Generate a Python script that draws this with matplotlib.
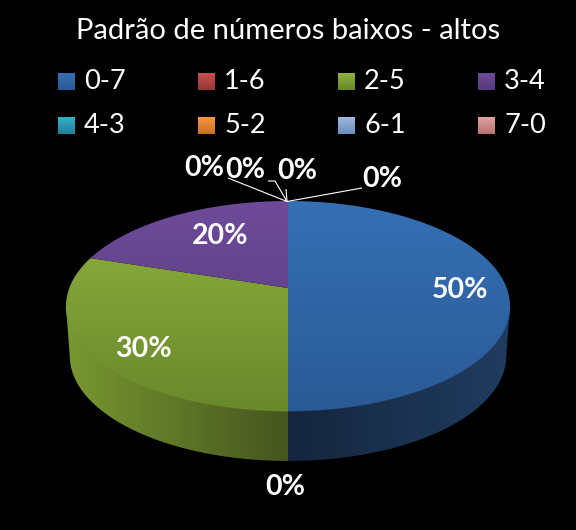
"""3D look pie of low/high number patterns, on black."""
import numpy as np
import matplotlib.pyplot as plt
from matplotlib.colors import LinearSegmentedColormap
from matplotlib.patches import Polygon

plt.rcParams["font.family"] = ["Lato", "DejaVu Sans"]

TITLE = "Padrão de números baixos - altos"
categories = ["0-7", "1-6", "2-5", "3-4", "4-3", "5-2", "6-1", "7-0"]
values = [50, 0, 30, 20, 0, 0, 0, 0]

# light / dark ends of each series gradient
LIGHT = ["#3570B4", "#C9504C", "#8FB240", "#6E4B99", "#35B0CC", "#F79646", "#9DB9DE", "#E2A3A0"]
DARK = ["#2A5A96", "#953735", "#68882B", "#553979", "#1F8098", "#C8701E", "#6C8EBE", "#B87370"]
SIDE_LIGHT = ["#203C60", "#953735", "#789830", "#573A7E", "#1F8098", "#C8701E", "#6C8EBE", "#B87370"]
SIDE_DARK = ["#15263E", "#5A2020", "#45551F", "#35234C", "#124C5A", "#784310", "#405672", "#6E4543"]

# pie geometry in image pixels: centre seen in perspective
CX, CY, A, B, K, DEPTH = 288, 288, 218.7, 101.9, 0.1714, 50


def project(t):
    u, v = np.sin(t), np.cos(t)
    return CX + A * u / (1 + K * v), CY - B * v / (1 + K * v)


def fill(ax, pts, c0, c1, extent, horizontal=False):
    patch = Polygon(pts, closed=True, fc="none", ec="none", transform=ax.transData)
    ax.add_patch(patch)
    cmap = LinearSegmentedColormap.from_list("g", [c0, c1])
    grad = np.linspace(0, 1, 256)
    grad = grad[None, :] if horizontal else grad[:, None]
    im = ax.imshow(grad, cmap=cmap, extent=extent, aspect="auto", origin="upper",
                   interpolation="bilinear")
    im.set_clip_path(patch)


fig = plt.figure(figsize=(5.76, 5.30), dpi=100, facecolor="black")
ax = fig.add_axes([0, 0, 1, 1])
ax.set_facecolor("black")
ax.axis("off")

ax.text(288, 31, TITLE, color="white", fontsize=21, ha="center", va="center")

# legend
for i, (cat, lt, dk) in enumerate(zip(categories, LIGHT, DARK)):
    col, row = i % 4, i // 4
    x, y = 58 + 140 * col, 73 + 44 * row
    cmap = LinearSegmentedColormap.from_list("s", [lt, dk])
    ax.imshow(np.linspace(0, 1, 32)[:, None], cmap=cmap, aspect="auto",
              extent=(x, x + 16.5, y + 17, y), origin="upper")
    ax.text(x + 26, y + 8.5, cat, color="white", fontsize=19.5, ha="left", va="center")

# slices, clockwise from twelve o'clock
edges = np.cumsum([0] + values) / sum(values) * 2 * np.pi
t_side = np.arccos(-K)  # where the outline is widest
for i, v in enumerate(values):
    if v == 0:
        continue
    t = np.linspace(edges[i], edges[i + 1], 200)
    # side wall, only the front part of the rim
    ts = t[(t >= t_side) & (t <= 2 * np.pi - t_side)]
    if len(ts):
        x, y = project(ts)
        bx = CX + (x - CX) * 0.983
        pts = np.r_[np.c_[x, y], np.c_[bx, y + DEPTH][::-1]]
        if x.mean() > CX:
            c0, c1, ext = SIDE_DARK[i], SIDE_LIGHT[i], (CX, 510, 470, 300)
        else:
            c0, c1, ext = SIDE_LIGHT[i], SIDE_DARK[i], (66, CX, 470, 300)
        fill(ax, pts, c0, c1, ext, horizontal=True)
    # top face
    x, y = project(t)
    pts = np.r_[[[CX, CY]], np.c_[x, y]]
    fill(ax, pts, LIGHT[i], DARK[i], (66, 510, 411, 201))
    # soft highlight along the front rim
    if len(ts):
        x, y = project(ts)
        ax.plot(x, y, color=LIGHT[i], lw=0.7, alpha=0.45)

# leader lines of the empty slices
APEX = (287, 201.5)
for xs, ys in [([APEX[0], 228], [APEX[1], 178]),
               ([APEX[0], 275, 268], [APEX[1], 181, 181]),
               ([APEX[0], 286], [APEX[1], 189]),
               ([APEX[0], 362], [APEX[1], 188])]:
    ax.plot(xs, ys, color="white", lw=0.8, solid_capstyle="butt")

# data labels
label_pos = [(460, 290), (285, 487), (143, 349), (220, 236),
             (204, 168), (245, 170), (297, 171), (382, 179)]
for v, (x, y) in zip(values, label_pos):
    ax.text(x, y, f"{v}%", color="white", fontsize=20.5, fontweight="bold",
            ha="center", va="center")

ax.set_xlim(0, 576)
ax.set_ylim(530, 0)
fig.savefig("out.png", dpi=100, facecolor="black")
